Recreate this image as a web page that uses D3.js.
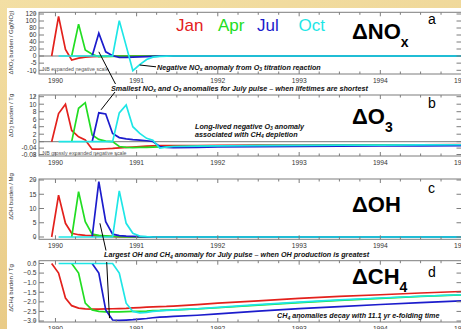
<!DOCTYPE html>
<html>
<head>
<meta charset="utf-8">
<script src="https://cdn.jsdelivr.net/npm/d3@7"></script>
<style>
  html, body { margin: 0; padding: 0; background: #fff; }
  svg { display: block; font-family: "Liberation Sans", Arial, Helvetica, sans-serif; }
</style>
</head>
<body>
<svg id="chart" width="461" height="329"></svg>
<script>
// mid-month samples through mid 1991, then a coarser tail out to 1995
const dates = ["1989-12-15","1990-01-15","1990-02-15","1990-03-15","1990-04-15","1990-05-15",
  "1990-06-15","1990-07-15","1990-08-15","1990-09-15","1990-10-15","1990-11-15","1990-12-15",
  "1991-01-15","1991-02-15","1991-03-15","1991-04-15","1991-05-15","1991-06-15",
  "1991-10-01","1992-01-01","1992-07-01","1993-01-01","1993-07-01","1994-01-01","1994-07-01","1995-01-01"];

const seriesNames = ["Jan", "Apr", "Jul", "Oct"];
const seriesColors = ["#e3211c", "#22dd22", "#1c1ccc", "#1ee6e6"];
const years = [1990, 1991, 1992, 1993, 1994, 1995];

// (a) NOx burden, Gg(NO2)
const noxJan = [0, 113, 19, -2.8, -1.5, -0.8, -0.5, -0.3, -0.2, -0.1, 0, 0, 0, 0, 0, 0, 0, 0, 0, 0, 0, 0, 0, 0, 0, 0, 0];
const noxApr = [null, null, null, 0, 91, 17, 5, -0.5, -0.3, -0.2, -0.1, 0, 0, 0, 0, 0, 0, 0, 0, 0, 0, 0, 0, 0, 0, 0, 0];
const noxJul = [null, null, null, null, null, null, 0, 65, 12, 0.5, -1, -1, -0.8, -0.6, -0.4, -0.2, -0.1, 0, 0, 0, 0, 0, 0, 0, 0, 0, 0];
const noxOct = [null, 0, 0, 0, 0, 0, 0, 0, 0, 0, 101, 29, -10.3, -6, -2.5, -0.8, -0.3, -0.1, 0, 0, 0, 0, 0, 0, 0, 0, 0];
const noxTicks = [120, 100, 80, 60, 40, 20, 0, -5, -10];

// (b) O3 burden, Tg
const o3Jan = [0, 7.5, 10, 3.0, 1.3, 0.45, -0.047, -0.046, -0.044, -0.042, -0.039, -0.036, -0.033, -0.030, -0.028, -0.026, -0.025, -0.025, -0.024, -0.024, -0.023, -0.022, -0.021, -0.020, -0.020, -0.019, -0.018];
const o3Apr = [null, null, null, 0, 8.9, 10.4, 1.8, 0.6, 0.15, 0.03, -0.03, -0.036, -0.037, -0.036, -0.035, -0.034, -0.033, -0.032, -0.031, -0.029, -0.027, -0.025, -0.024, -0.023, -0.022, -0.021, -0.020];
const o3Jul = [null, null, null, null, null, null, 0, 7.7, 7.4, 2.2, 1.1, 0.75, 0.55, 0.4, 0.25, 0.05, -0.03, -0.036, -0.037, -0.035, -0.033, -0.031, -0.029, -0.028, -0.027, -0.026, -0.025];
const o3Oct = [null, 0, 0, 0, 0, 0, 0, 0, 0, 0, 7.7, 9.8, 4, 2.2, 0.9, 0.4, -0.04, -0.034, -0.03, -0.028, -0.026, -0.024, -0.023, -0.022, -0.021, -0.020, -0.019];
const o3Ticks = [12, 10, 8, 6, 4, 2, 0, -0.04, -0.08];

// (c) OH burden, Mg
const ohJan = [0, 14.7, 4.8, 1.3, 0.8, 0.6, 0.45, 0.3, 0.2, 0.1, 0.05, 0, 0, 0, 0, 0, 0, 0, 0, 0, 0, 0, 0, 0, 0, 0, 0];
const ohApr = [null, null, null, 0, 15.9, 5.4, 1.0, 0.6, 0.4, 0.2, 0.1, 0, 0, 0, 0, 0, 0, 0, 0, 0, 0, 0, 0, 0, 0, 0, 0];
const ohJul = [null, null, null, null, null, null, 0, 19.4, 5.4, 1.0, 0.5, 0.3, 0.2, 0.1, 0, 0, 0, 0, 0, 0, 0, 0, 0, 0, 0, 0, 0];
const ohOct = [null, 0, 0, 0, 0, 0, 0, 0, 0, 0, 16.2, 4.8, 1.3, 0.3, 0.1, 0, 0, 0, 0, 0, 0, 0, 0, 0, 0, 0, 0];
const ohTicks = [20, 15, 10, 5, 0];

// (d) CH4 burden, Tg
const ch4Jan = [0, -0.5, -1.8, -2.2, -2.33, -2.37, -2.38, -2.38, -2.37, -2.36, -2.35, -2.34, -2.32, -2.3, -2.28, -2.26, -2.25, -2.24, -2.22, -2.15, -2.07, -1.95, -1.82, -1.72, -1.63, -1.54, -1.46];
const ch4Apr = [null, null, null, 0, -0.5, -2.07, -2.42, -2.5, -2.52, -2.52, -2.52, -2.51, -2.5, -2.49, -2.48, -2.46, -2.45, -2.43, -2.42, -2.37, -2.31, -2.17, -2.04, -1.92, -1.82, -1.72, -1.64];
const ch4Jul = [null, null, null, null, null, null, 0, -0.5, -2.42, -2.95, -2.97, -2.95, -2.93, -2.9, -2.87, -2.83, -2.8, -2.78, -2.76, -2.7, -2.63, -2.48, -2.35, -2.25, -2.14, -2.04, -1.95];
const ch4Oct = [null, 0, 0, 0, 0, 0, 0, 0, 0, 0, -0.5, -2.07, -2.5, -2.58, -2.55, -2.5, -2.47, -2.45, -2.43, -2.36, -2.29, -2.15, -2.02, -1.9, -1.8, -1.71, -1.63];
const ch4Ticks = [0.0, -0.5, -1.0, -1.5, -2.0, -2.5, -3.0];

const parse = d3.timeParse("%Y-%m-%d");
const times = dates.map(parse);

const svg = d3.select("#chart");

// slide background
const defs = svg.append("defs");
const grad = defs.append("linearGradient").attr("id", "bg").attr("x1", 0).attr("y1", 0).attr("x2", 0.3).attr("y2", 1);
grad.append("stop").attr("offset", 0).attr("stop-color", "#f3dfa4");
grad.append("stop").attr("offset", 1).attr("stop-color", "#e8c984");
svg.append("rect").attr("width", 461).attr("height", 329).attr("fill", "url(#bg)");
svg.append("rect").attr("x", 7).attr("y", 8).attr("width", 454).attr("height", 321).attr("fill", "#fff");

const x = d3.scaleTime()
  .domain([new Date(1989, 9, 19), new Date(1995, 0, 1)])
  .range([39, 461.5]);

const panels = [
  { id: "a", top: 12.3, bottom: 74, yDomain: [-10, 0, 120], yRange: [70.3, 56, 14],
    ticks: noxTicks, fmt: d => String(d), series: [noxJan, noxApr, noxJul, noxOct],
    title: "ΔNO_{x} burden / Gg(NO_{2})", titleY: 42.5,
    big: "ΔNO_{x}", bigY: 39.3, letter: "a", letterY: 24.3, zero: true,
    nb: "NB expanded negative scale", nbY: 70.5 },
  { id: "b", top: 95, bottom: 156, yDomain: [-0.08, 0, 12], yRange: [154.5, 141.7, 96.7],
    ticks: o3Ticks, fmt: d => String(d), series: [o3Jan, o3Apr, o3Jul, o3Oct],
    title: "ΔO_{3} burden / Tg", titleY: 115.5,
    big: "ΔO_{3}", bigY: 124.3, letter: "b", letterY: 108.3, zero: true,
    nb: "NB grossly expanded negative scale", nbY: 154.5 },
  { id: "c", top: 179, bottom: 239.3, yDomain: [0, 20], yRange: [237, 180],
    ticks: ohTicks, fmt: d => String(d), series: [ohJan, ohApr, ohJul, ohOct],
    title: "ΔOH burden / Mg", titleY: 196.5,
    big: "ΔOH", bigY: 211.7, letter: "c", letterY: 193.3, zero: false },
  { id: "d", top: 260.7, bottom: 322, yDomain: [-3, 0], yRange: [321, 263.5],
    ticks: ch4Ticks, fmt: d3.format(".1f"), series: [ch4Jan, ch4Apr, ch4Jul, ch4Oct],
    title: "ΔCH_{4} burden / Tg", titleY: 288,
    big: "ΔCH_{4}", bigY: 284.3, letter: "d", letterY: 276.7, zero: false }
];

// write "NO_{x}" style strings with subscripts
function rich(sel, str, subSize, shift) {
  const parts = str.split(/_\{([^}]*)\}/);
  let cur = 0;
  parts.forEach((p, i) => {
    if (!p) return;
    const target = i % 2 ? shift : 0;
    const ts = sel.append("tspan").attr("dy", target - cur).text(p);
    if (i % 2) ts.style("font-size", subSize);
    cur = target;
  });
  return sel;
}

const frameColor = "#7d7d7d";
const [x0, x1] = x.range();

panels.forEach((p, pi) => {
  const y = d3.scaleLinear().domain(p.yDomain).range(p.yRange);
  p.y = y;
  const g = svg.append("g");

  defs.append("clipPath").attr("id", "clip" + p.id)
    .append("rect").attr("x", x0).attr("y", p.top).attr("width", x1 - x0).attr("height", p.bottom - p.top);

  if (p.zero) {
    g.append("line").attr("x1", x0).attr("x2", x1).attr("y1", y(0)).attr("y2", y(0))
      .attr("stroke", "#777").attr("stroke-width", 1);
  }

  if (p.nb) {
    g.append("text").attr("x", 42.5).attr("y", p.nbY)
      .attr("font-size", 5.2).attr("fill", "#555").text(p.nb);
  }

  // data lines
  const line = d3.line()
    .defined(d => d[1] != null)
    .x(d => x(d[0]))
    .y(d => y(d[1]));
  g.append("g").attr("clip-path", "url(#clip" + p.id + ")")
    .selectAll("path").data(p.series).join("path")
    .attr("d", s => line(s.map((v, i) => [times[i], v])))
    .attr("fill", "none")
    .attr("stroke", (s, i) => seriesColors[i])
    .attr("stroke-width", 1.7)
    .attr("stroke-linejoin", "miter");

  // frame
  g.append("rect").attr("x", x0).attr("y", p.top).attr("width", x1 - x0).attr("height", p.bottom - p.top)
    .attr("fill", "none").attr("stroke", frameColor).attr("stroke-width", 1);

  // x ticks, inward on top and bottom
  const major = d3.timeYear.range(new Date(1990, 0, 1), new Date(1995, 0, 2));
  const minor = d3.timeMonth.every(3).range(new Date(1989, 9, 1), new Date(1995, 0, 2))
    .filter(d => d.getMonth() !== 0);
  [[major, 4], [minor, 2.5]].forEach(([vals, len]) => {
    g.selectAll(null).data(vals).join("path")
      .attr("d", d => `M${x(d)},${p.bottom}v${-len}M${x(d)},${p.top}v${len}`)
      .attr("stroke", frameColor).attr("stroke-width", 1);
  });
  g.selectAll(null).data(years).join("text")
    .attr("x", d => x(new Date(d, 0, 1)))
    .attr("y", p.bottom + 8.5)
    .attr("text-anchor", "middle")
    .attr("font-size", 6.7).attr("fill", "#333")
    .text(d => d);

  // y ticks, both sides
  g.selectAll(null).data(p.ticks).join("path")
    .attr("d", d => `M${x0},${y(d)}h5M${x1},${y(d)}h-5`)
    .attr("stroke", frameColor).attr("stroke-width", 1);
  g.selectAll(null).data(p.ticks).join("text")
    .attr("x", 36.5).attr("y", d => y(d) + 2.3)
    .attr("text-anchor", "end")
    .attr("font-size", 6.6).attr("fill", "#333")
    .text(p.fmt);

  // axis title
  rich(g.append("text")
    .attr("transform", `translate(12.5,${p.titleY}) rotate(-90)`)
    .attr("text-anchor", "middle")
    .attr("font-size", 6).attr("fill", "#333"), p.title, 4.5, 1.5);

  // species label and panel letter
  rich(g.append("text").attr("x", 352).attr("y", p.bigY)
    .attr("font-size", 22).attr("font-weight", "bold").attr("fill", "#000"), p.big, 14, 7.3);
  g.append("text").attr("x", 428).attr("y", p.letterY)
    .attr("font-size", 14).attr("fill", "#000").text(p.letter);
});

// legend of pulse months
const legendX = [176, 218, 257, 298.5];
svg.selectAll(null).data(seriesNames).join("text")
  .attr("x", (d, i) => legendX[i]).attr("y", 30.7)
  .attr("font-size", 17).attr("fill", (d, i) => seriesColors[i])
  .text(d => d);

// annotations
const notes = [
  { x: 157, y: 69.5, s: "Negative NO_{x} anomaly from O_{3} titration reaction" },
  { x: 111, y: 90.5, s: "Smallest NO_{x} and O_{3} anomalies for July pulse – when lifetimes are shortest" },
  { x: 195, y: 128.5, s: "Long-lived negative O_{3} anomaly" },
  { x: 195, y: 136.5, s: "associated with CH_{4} depletion" },
  { x: 104, y: 257, s: "Largest OH and CH_{4} anomaly for July pulse – when OH production is greatest" },
  { x: 277, y: 318, s: "CH_{4} anomalies decay with 11.1 yr e-folding time" }
];
notes.forEach(n => {
  rich(svg.append("text").attr("x", n.x).attr("y", n.y)
    .attr("font-size", 7.2).attr("font-weight", "bold").attr("font-style", "italic").attr("fill", "#111"),
    n.s, 5, 1.5);
});

// leader lines from the notes to the curves
const leaders = [
  { p: 0, date: "1991-01-15", v: -6.3, end: [156, 66.8] },
  { p: 0, date: "1990-07-15", v: 12, end: [115.5, 84] },
  { p: 1, date: "1990-07-25", v: 8.5, end: [115, 92] },
  { p: 2, date: "1990-07-20", v: 4.8, end: [106, 250.5] },
  { p: 3, date: "1990-09-01", v: -2.85, end: [106.7, 262] }
];
svg.selectAll(null).data(leaders).join("line")
  .attr("x1", d => x(parse(d.date))).attr("y1", d => panels[d.p].y(d.v))
  .attr("x2", d => d.end[0]).attr("y2", d => d.end[1])
  .attr("stroke", "#000").attr("stroke-width", 1);
</script>
</body>
</html>
